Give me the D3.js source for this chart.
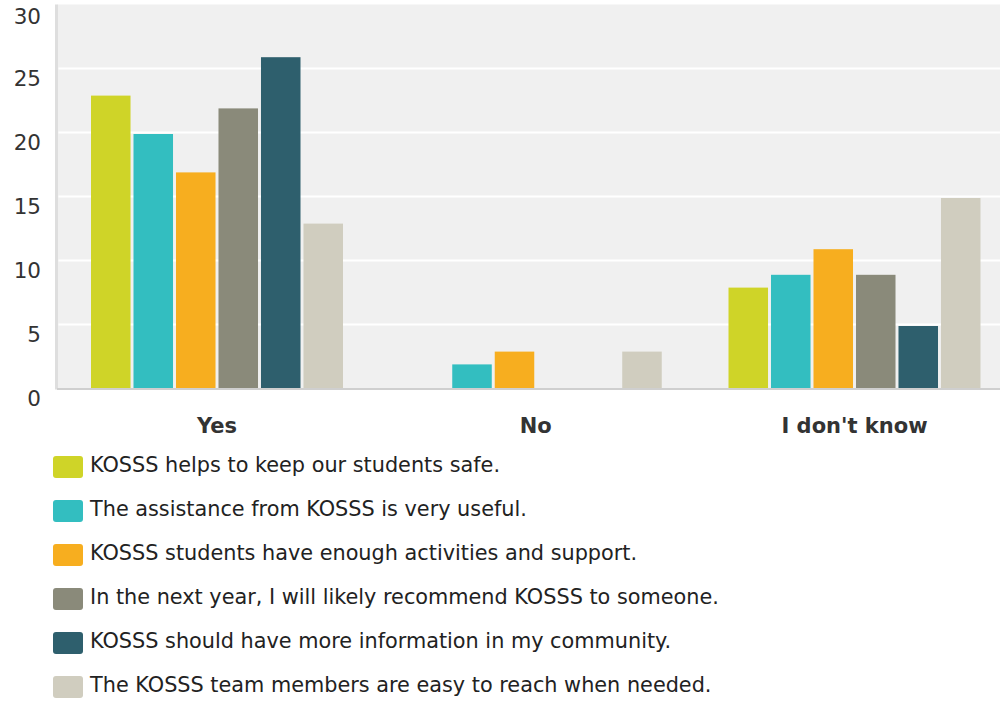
<!DOCTYPE html>
<html><head><meta charset="utf-8">
<script src="https://cdn.jsdelivr.net/npm/d3@7"></script>
<style>body{margin:0;background:#fff}svg{display:block;font-family:"DejaVu Sans",sans-serif}</style>
</head><body><svg id="c" width="1000" height="702"></svg>
<script>
const categories = ["Yes", "No", "I don't know"];
const seriesNames = [
  "KOSSS helps to keep our students safe.",
  "The assistance from KOSSS is very useful.",
  "KOSSS students have enough activities and support.",
  "In the next year, I will likely recommend KOSSS to someone.",
  "KOSSS should have more information in my community.",
  "The KOSSS team members are easy to reach when needed."
];
const seriesColors = ["#cfd428", "#33bec0", "#f7ae1f", "#8a8a7a", "#2e5f6d", "#d0cdbf"];
const values = [
  [23, 0, 8],
  [20, 2, 9],
  [17, 3, 11],
  [22, 0, 9],
  [26, 0, 5],
  [13, 3, 15]
];
const yTicks = [0, 5, 10, 15, 20, 25, 30];

const svg = d3.select("#c");
const plotLeft = 57.5, plotRight = 1000, groupStep = 318.75;
const y = d3.scaleLinear().domain([0, 30]).range([388.5, 4.5]);
const x0 = d3.scaleBand().domain(categories).range([plotLeft, plotLeft + groupStep * categories.length]);
const x1 = d3.scaleBand().domain(d3.range(seriesNames.length)).range([33.5, 285.5]).paddingInner(0.07);
const barInset = 1.5;

// background
svg.append("rect").attr("x", plotLeft).attr("y", y(30)).attr("width", plotRight - plotLeft)
  .attr("height", y(0) - y(30)).attr("fill", "#f0f0f0");
// left border
svg.append("rect").attr("x", 55).attr("y", y(30)).attr("width", 3).attr("height", y(0) - y(30) + 1).attr("fill", "#dedede");

// gridlines
svg.append("g").selectAll("line").data(yTicks.filter(t => t > 0 && t < 30)).join("line")
  .attr("x1", plotLeft + 1).attr("x2", plotRight).attr("y1", d => y(d)).attr("y2", d => y(d))
  .attr("stroke", "#fff").attr("stroke-width", 2);

// bars
const groups = svg.append("g").selectAll("g").data(categories).join("g")
  .attr("transform", d => `translate(${x0(d)},0)`);
groups.selectAll("rect").data((c, ci) => values.map((s, si) => ({si, v: s[ci]})).filter(d => d.v > 0)).join("rect")
  .attr("x", d => x1(d.si)).attr("width", x1.bandwidth())
  .attr("y", d => y(d.v) + barInset).attr("height", d => y(0) - y(d.v) - barInset + 0.5)
  .attr("fill", d => seriesColors[d.si]);

// bottom axis line
svg.append("line").attr("x1", 57).attr("x2", plotRight).attr("y1", y(0) + 0.5).attr("y2", y(0) + 0.5)
  .attr("stroke", "#cfcfcf").attr("stroke-width", 2);

// y tick labels
svg.append("g").selectAll("text").data(yTicks).join("text")
  .attr("x", 41).attr("y", d => Math.max(y(d), 7) + 9.5)
  .attr("text-anchor", "end").attr("dominant-baseline", "central")
  .attr("font-size", 21.5).attr("fill", "#333").text(d => d);

// x labels
svg.append("g").selectAll("text").data(categories).join("text")
  .attr("x", d => x0(d) + 159.5).attr("y", 432.5)
  .attr("text-anchor", "middle").attr("font-size", 21).attr("font-weight", "bold")
  .attr("fill", "#333").text(d => d);

// legend
const leg = svg.append("g").selectAll("g").data(seriesNames).join("g")
  .attr("transform", (d, i) => `translate(53,${456 + i * 44})`);
leg.append("rect").attr("width", 30).attr("height", 22).attr("rx", 3).attr("fill", (d, i) => seriesColors[i]);
leg.append("text").attr("x", 37).attr("y", 16).attr("font-size", 20.8).attr("fill", "#222").text(d => d);
</script></body></html>
